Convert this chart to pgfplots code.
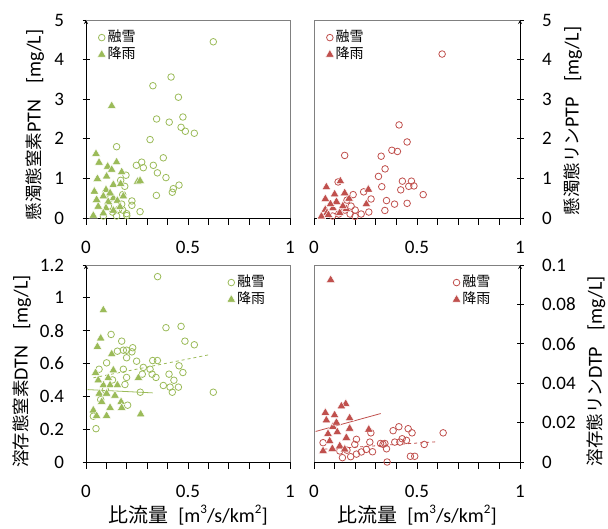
\documentclass[border=0pt]{standalone}
\usepackage{fontspec}
\setmainfont{Carlito}
\newfontfamily\jp{Noto Sans CJK JP}
\usepackage{pgfplots}
\pgfplotsset{compat=1.18}
\definecolor{sgreen}{HTML}{9BBB59}
\definecolor{sred}{HTML}{C0504D}
\newcommand{\lf}{\fontsize{19}{21}\selectfont}
\newcommand{\labf}{\fontsize{20}{22}\selectfont}
\pgfplotsset{
 panel/.style={scale only axis, xmin=0,xmax=1, ymin=0,
   axis x line=bottom, axis line style={-,black,line width=0.8pt},
   tick align=outside, major tick length=7pt, minor tick length=7pt,
   every tick/.style={black, line width=0.8pt},
   xtick={0,0.5,1}, xticklabels={0,0.5,1},
   minor xtick={0.1,0.2,0.3,0.4,0.6,0.7,0.8,0.9},
   tick label style={font=\lf},
   xticklabel style={yshift=-13pt},
   /pgf/number format/assume math mode=true, clip=false,
   legend style={draw=none, fill=none, font=\jp\fontsize{14}{16}\selectfont, row sep=0pt, inner sep=0pt,
     nodes={inner sep=1.5pt, text height=11pt, text depth=3pt}},
   legend cell align=left},
 left panel/.style={axis y line=left, yticklabel style={xshift=-15pt}},
 right panel/.style={axis y line=right, yticklabel style={xshift=15pt}},
 snow/.style={only marks, mark=o, mark size=3.3pt, mark options={draw=#1, line width=0.8pt}},
 rain/.style={only marks, mark=triangle*, mark size=5pt, mark options={fill=#1, draw=white, line width=0.4pt}},
}
\newcommand{\sups}[1]{\raisebox{0.42em}{\fontsize{13}{13}\selectfont #1}}
\newcommand{\xlab}{{\jp\fontsize{20}{22}\selectfont 比流量}{\labf\hspace{0.5em}[m\sups{3}/s/km\sups{2}]}}
\newcommand{\ylab}[2]{{\jp\fontsize{17.5}{20}\selectfont #1}{\labf #2\hspace{0.8em}[mg/L]}}
\begin{document}
\begin{tikzpicture}
% ---------- Panel 1: PTN ----------
\begin{axis}[panel, left panel, at={(86pt,311pt)}, anchor=south west, width=204pt, height=198pt,
  ymax=5, ytick={0,1,2,3,4,5}, yticklabels={0,1,2,3,4,5},
  legend style={at={(axis description cs:0.055,0.955)}, anchor=north west}]
\addplot[snow=sgreen] coordinates {
(0.624,4.45) (0.417,3.56) (0.328,3.34) (0.453,3.05) (0.475,2.55) (0.346,2.50)
(0.408,2.42) (0.466,2.29) (0.487,2.19) (0.531,2.14) (0.314,1.98) (0.150,1.80)
(0.379,1.52) (0.273,1.41) (0.247,1.33) (0.330,1.33) (0.281,1.27) (0.350,1.14)
(0.392,1.02) (0.196,1.08) (0.456,0.83) (0.428,0.74) (0.423,0.65) (0.345,0.57)
(0.225,0.43) (0.225,0.32) (0.265,0.16) (0.199,0.11) (0.200,0.06) (0.180,0.59)
(0.190,0.80) (0.170,0.95) (0.110,0.30) (0.130,0.15) (0.160,0.22) (0.175,0.35)
(0.085,0.05) (0.120,0.50) (0.150,0.05) (0.180,0.20)};
\addplot[rain=sgreen] coordinates {
(0.126,2.83) (0.049,1.62) (0.064,1.40) (0.150,1.41) (0.106,1.30) (0.126,1.22)
(0.175,1.16) (0.056,0.99) (0.101,1.05) (0.253,0.92) (0.265,0.94) (0.134,0.84)
(0.170,0.86) (0.041,0.67) (0.098,0.71) (0.085,0.55) (0.134,0.50) (0.154,0.44)
(0.109,0.41) (0.060,0.29) (0.098,0.25) (0.036,0.06) (0.085,0.12) (0.134,0.19)
(0.167,0.28) (0.052,0.46) (0.118,0.63) (0.183,0.55)};
\legend{融雪,降雨}
\draw[black!50, line width=0.8pt] (rel axis cs:0,1) -- (rel axis cs:1,1) -- (rel axis cs:1,0);
\node[rotate=90, anchor=center, inner sep=0pt] at (axis description cs:-0.25,0.47) {\ylab{懸濁態窒素}{PTN}};
\end{axis}
% ---------- Panel 2: PTP ----------
\begin{axis}[panel, right panel, at={(314pt,311pt)}, anchor=south west, width=206pt, height=198pt,
  ymax=5, ytick={0,1,2,3,4,5}, yticklabels={0,1,2,3,4,5},
  legend style={at={(axis description cs:0.055,0.955)}, anchor=north west}]
\addplot[snow=sred] coordinates {
(0.622,4.14) (0.413,2.35) (0.452,1.92) (0.378,1.71) (0.405,1.68) (0.149,1.58)
(0.326,1.56) (0.345,1.24) (0.313,1.05) (0.329,0.79) (0.429,0.93) (0.473,0.93)
(0.421,0.71) (0.460,0.80) (0.485,0.81) (0.530,0.59) (0.352,0.44) (0.391,0.35)
(0.452,0.37) (0.344,0.19) (0.241,0.66) (0.277,0.48) (0.266,0.15) (0.229,0.10)
(0.199,0.04) (0.190,0.59) (0.117,0.91) (0.180,0.30) (0.150,0.20) (0.200,0.20)
(0.120,0.10) (0.090,0.05) (0.160,0.45) (0.175,0.10)};
\addplot[rain=sred] coordinates {
(0.128,0.93) (0.060,0.78) (0.264,0.72) (0.055,0.48) (0.109,0.41) (0.170,0.49)
(0.149,0.63) (0.254,0.35) (0.055,0.21) (0.063,0.13) (0.036,0.04) (0.157,0.23)
(0.092,0.25) (0.125,0.13) (0.080,0.35) (0.140,0.30) (0.100,0.60) (0.070,0.08)};
\legend{融雪,降雨}
\draw[black!50, line width=0.8pt] (rel axis cs:0,0) -- (rel axis cs:0,1) -- (rel axis cs:1,1);
\node[rotate=90, anchor=center, inner sep=0pt] at (axis description cs:1.257,0.49) {\ylab{懸濁態リン}{PTP}};
\end{axis}
% ---------- Panel 3: DTN ----------
\begin{axis}[panel, left panel, at={(86pt,67pt)}, anchor=south west, width=204pt, height=197pt,
  ymax=1.2, ytick={0,0.2,0.4,0.6,0.8,1,1.2}, yticklabels={0,0.2,0.4,0.6,0.8,1,1.2},
  xlabel={\xlab},
  xlabel style={at={(axis description cs:0.5,-0.27)}, anchor=center},
  legend style={at={(axis description cs:0.69,0.955)}, anchor=north west}]
\addplot[snow=sgreen] coordinates {
(0.351,1.129) (0.392,0.818) (0.466,0.826) (0.485,0.736) (0.531,0.714) (0.123,0.777)
(0.175,0.736) (0.183,0.681) (0.199,0.681) (0.229,0.696) (0.225,0.671) (0.154,0.675)
(0.199,0.635) (0.248,0.614) (0.327,0.618) (0.350,0.618) (0.101,0.604) (0.314,0.565)
(0.281,0.576) (0.456,0.586) (0.183,0.565) (0.064,0.565) (0.324,0.535) (0.343,0.515)
(0.276,0.535) (0.407,0.535) (0.475,0.545) (0.431,0.498) (0.199,0.515) (0.379,0.466)
(0.412,0.456) (0.453,0.456) (0.423,0.425) (0.266,0.425) (0.624,0.425) (0.191,0.472)
(0.204,0.346) (0.049,0.203) (0.036,0.279) (0.072,0.380) (0.095,0.440) (0.130,0.500)};
\addplot[rain=sgreen] coordinates {
(0.085,0.925) (0.072,0.753) (0.056,0.702) (0.126,0.657) (0.047,0.543) (0.134,0.559)
(0.109,0.512) (0.257,0.512) (0.085,0.468) (0.118,0.468) (0.154,0.468) (0.065,0.417)
(0.142,0.405) (0.077,0.366) (0.172,0.366) (0.118,0.330) (0.175,0.330) (0.036,0.315)
(0.101,0.281) (0.268,0.291) (0.052,0.281) (0.060,0.498) (0.101,0.417)};
\addplot[sgreen, line width=0.8pt, dashed, forget plot] coordinates {(0.036,0.513) (0.611,0.655)};
\addplot[sgreen, line width=0.8pt, forget plot] coordinates {(0.008,0.441) (0.327,0.421)};
\legend{融雪,降雨}
\draw[black!50, line width=0.8pt] (rel axis cs:0,1) -- (rel axis cs:1,1) -- (rel axis cs:1,0);
\node[rotate=90, anchor=center, inner sep=0pt] at (axis description cs:-0.314,0.46) {\ylab{溶存態窒素}{DTN}};
\end{axis}
% ---------- Panel 4: DTP ----------
\begin{axis}[panel, right panel, at={(314pt,67pt)}, anchor=south west, width=206pt, height=197pt,
  ymax=0.1, ytick={0,0.02,0.04,0.06,0.08,0.1}, yticklabels={0,0.02,0.04,0.06,0.08,0.1},
  xlabel={\xlab},
  xlabel style={at={(axis description cs:0.5,-0.27)}, anchor=center},
  legend style={at={(axis description cs:0.67,0.955)}, anchor=north west}]
\addplot[snow=sred] coordinates {
(0.627,0.0148) (0.412,0.0179) (0.384,0.0159) (0.457,0.0169) (0.476,0.0148) (0.535,0.0089)
(0.428,0.0118) (0.417,0.0101) (0.392,0.0101) (0.449,0.0110) (0.323,0.0094) (0.344,0.0094)
(0.352,0.0067) (0.284,0.0052) (0.271,0.0101) (0.355,0.0000) (0.468,0.0029) (0.489,0.0029)
(0.254,0.0064) (0.230,0.0051) (0.206,0.0040) (0.178,0.0027) (0.138,0.0022) (0.198,0.0089)
(0.276,0.0148) (0.206,0.0115) (0.044,0.0098) (0.125,0.0056) (0.335,0.0090) (0.160,0.0060)};
\addplot[rain=sred] coordinates {
(0.081,0.0924) (0.055,0.0250) (0.154,0.0295) (0.133,0.0283) (0.100,0.0238) (0.060,0.0212)
(0.173,0.0223) (0.266,0.0165) (0.092,0.0179) (0.173,0.0170) (0.068,0.0143) (0.113,0.0152)
(0.157,0.0123) (0.076,0.0106) (0.125,0.0081) (0.044,0.0056) (0.089,0.0067) (0.149,0.0064)
(0.109,0.0200)};
\addplot[sred, line width=0.8pt, dashed, forget plot] coordinates {(0.05,0.0065) (0.60,0.0103)};
\addplot[sred, line width=0.8pt, forget plot] coordinates {(0.008,0.0155) (0.324,0.0246)};
\legend{融雪,降雨}
\draw[black!50, line width=0.8pt] (rel axis cs:0,0) -- (rel axis cs:0,1) -- (rel axis cs:1,1);
\node[rotate=90, anchor=center, inner sep=0pt] at (axis description cs:1.37,0.46) {\ylab{溶存態リン}{DTP}};
\end{axis}
\pgfresetboundingbox
\useasboundingbox (0,0) rectangle (608pt,529pt);
\end{tikzpicture}
\end{document}
